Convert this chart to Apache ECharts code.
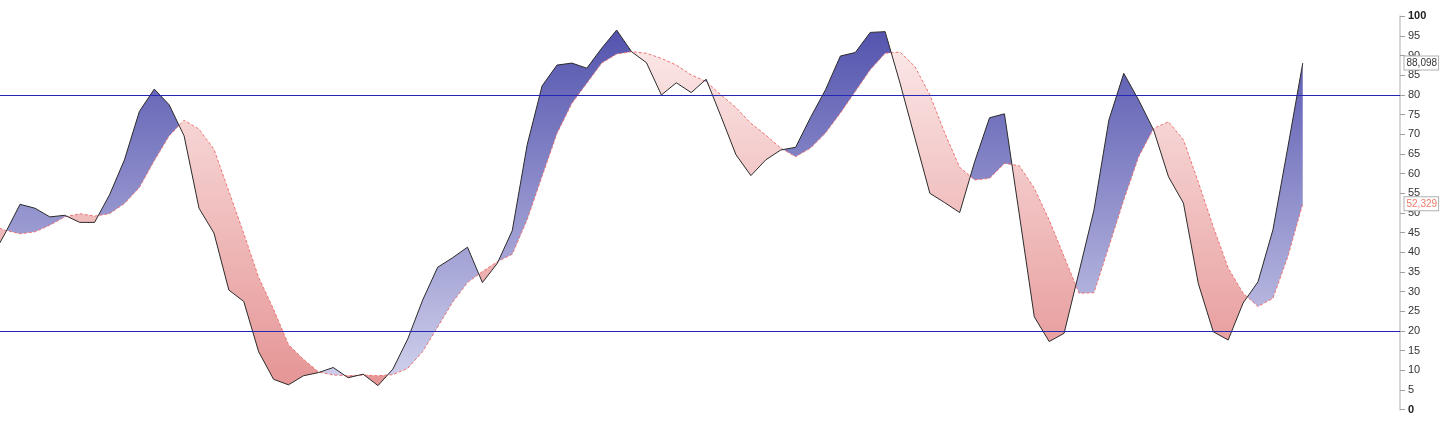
<!DOCTYPE html>
<html>
<head>
<meta charset="utf-8">
<script src="https://cdn.jsdelivr.net/npm/echarts@6/dist/echarts.min.js"></script>
<style>
html,body{margin:0;padding:0;background:#fff;}
#chart{width:1440px;height:428px;}
</style>
</head>
<body>
<div id="chart"></div>
<script>
// %K (solid black) values, one per bar
const kValues = [38, 44.8, 52.2, 51.2, 49.0, 49.4, 47.6, 47.6, 54.6, 63.5,
  75.8, 81.5, 77.5, 69.6, 51.2, 44.9, 30.4, 27.5, 14.7, 7.7,
  6.3, 8.6, 9.4, 10.7, 8.1, 9.0, 6.1, 10.3, 18.0, 27.9,
  36.2, 38.6, 41.3, 32.3, 37.2, 45.5, 67.3, 82.3, 87.6, 88.1,
  86.8, 91.9, 96.5, 91.0, 88.2, 80.0, 83.1, 80.6, 84.0, 74.5,
  64.8, 59.5, 63.5, 66.0, 66.7, 74.3, 81.3, 89.9, 90.8, 95.9,
  96.1, 83.0, 69.0, 55.0, 52.6, 50.1, 63.0, 74.2, 75.2, 49.5,
  23.6, 17.3, 19.4, 35.0, 50.7, 73.6, 85.5, 78.7, 71.1, 59.2,
  52.5, 32.0, 19.8, 17.7, 27.1, 32.5, 45.7, 66.7, 88.098];
// %D (dashed red) values
const dValues = [47, 45.6, 44.7, 45.2, 46.9, 49.0, 49.8, 49.2, 49.8, 52.4,
  56.5, 63.3, 69.6, 73.6, 71.3, 66.2, 55.5, 44.8, 33.6, 25.5,
  16.5, 12.8, 9.6, 8.8, 8.6, 8.8, 8.6, 8.9, 10.5, 14.8,
  21.0, 27.3, 32.3, 35.1, 37.6, 39.5, 48.3, 59.3, 70.2, 77.9,
  83.0, 88.1, 90.4, 91.0, 90.6, 89.3, 87.6, 85.1, 83.4, 80.0,
  76.8, 72.8, 69.8, 66.5, 64.3, 66.5, 70.3, 75.4, 80.9, 86.4,
  90.6, 90.9, 87.2, 80.0, 70.3, 61.6, 58.4, 58.8, 62.6, 62.0,
  56.3, 48.2, 38.9, 29.6, 29.7, 41.4, 53.3, 64.3, 71.5, 73.2,
  68.6, 57.8, 46.5, 36.0, 29.6, 26.2, 28.3, 38.9, 52.329];
// Overbought / oversold levels
const levels = [80, 20];

const kData = kValues.map((v, i) => [i, v]);
const dData = dValues.map((v, i) => [i, v]);
const lastIdx = kValues.length - 1;
const X_MIN = 0.657, X_MAX = 94.52;

function fmt(v) { return v.toFixed(3).replace('.', ','); }

const chart = echarts.init(document.getElementById('chart'), null, {renderer: 'canvas'});

function renderFill(params, api) {
  const top = api.coord([X_MIN, 100])[1];
  const bot = api.coord([X_MIN, 0])[1];
  const blue = new echarts.graphic.LinearGradient(0, top, 0, bot,
    [{offset: 0, color: '#4f4fac'}, {offset: 1, color: '#dadaf1'}], true);
  const red = new echarts.graphic.LinearGradient(0, top, 0, bot,
    [{offset: 0, color: '#fdeeee'}, {offset: 1, color: '#e48f8f'}], true);
  const regions = [];
  let cur = null;
  let prevSign = 0;
  for (let i = 0; i < kValues.length; i++) {
    const diff = kValues[i] - dValues[i];
    let s = diff > 0 ? 1 : (diff < 0 ? -1 : prevSign || 1);
    const p = api.coord([i, kValues[i]]);
    const q = api.coord([i, dValues[i]]);
    if (cur && s !== cur.sign) {
      const d0 = kValues[i - 1] - dValues[i - 1];
      const t = d0 / (d0 - diff);
      const cx = i - 1 + t;
      const cy = kValues[i - 1] + t * (kValues[i] - kValues[i - 1]);
      const c = api.coord([cx, cy]);
      cur.k.push(c); cur.d.push(c);
      regions.push(cur);
      cur = {sign: s, k: [c], d: [c]};
    }
    if (!cur) cur = {sign: s, k: [], d: []};
    cur.k.push(p); cur.d.push(q);
    prevSign = s;
  }
  if (cur) regions.push(cur);
  const children = regions.map(r => ({
    type: 'polygon',
    shape: {points: r.k.concat(r.d.slice().reverse())},
    style: {fill: r.sign > 0 ? blue : red, stroke: null}
  }));
  return {type: 'group', children: children};
}

const option = {
  animation: false,
  backgroundColor: '#fff',
  grid: {left: 0, right: 40, top: 16.3, bottom: 18.4, containLabel: false},
  xAxis: {
    type: 'value', min: X_MIN, max: X_MAX, show: false,
    splitLine: {show: false}
  },
  yAxis: {
    type: 'value', position: 'right', min: 0, max: 100, interval: 5,
    axisLine: {show: true, lineStyle: {color: '#d6d6d6', width: 2}},
    axisTick: {show: true, length: 5, lineStyle: {color: '#a0a0a0', width: 1}},
    splitLine: {show: false},
    axisLabel: {
      margin: 8, fontSize: 11, color: '#333', fontFamily: 'Liberation Sans, Arial, sans-serif',
      formatter: function (v) { return (v === 100 || v === 0) ? '{b|' + v + '}' : String(v); },
      rich: {b: {fontWeight: 'bold', fontSize: 11, color: '#222', fontFamily: 'Liberation Sans, Arial, sans-serif'}}
    }
  },
  series: [
    {
      type: 'custom', z: 1, clip: true, silent: true,
      data: [[0, 0]],
      renderItem: renderFill
    },
    {
      name: '%D', type: 'line', data: dData, z: 2, symbol: 'none', silent: true,
      lineStyle: {color: '#ee7373', width: 1, type: [3, 2]},
      markPoint: {
        symbol: 'rect', symbolSize: 1, silent: true,
        itemStyle: {color: 'rgba(0,0,0,0)'},
        data: [{coord: [X_MAX, dValues[lastIdx]], value: dValues[lastIdx]}],
        label: {
          show: true, position: 'right', distance: 4,
          formatter: p => fmt(p.value),
          color: '#ef7a68', fontSize: 10, fontFamily: 'Liberation Sans, Arial, sans-serif',
          backgroundColor: '#fff', borderColor: '#b0b0b0', borderWidth: 1, padding: [2, 1, 1, 2]
        }
      }
    },
    {
      name: '%K', type: 'line', data: kData, z: 3, symbol: 'none', silent: true,
      lineStyle: {color: '#2b2b2b', width: 1},
      markLine: {
        silent: true, symbol: ['none', 'none'], label: {show: false},
        lineStyle: {color: '#2626b4', width: 1, type: 'solid'},
        data: levels.map(v => ({yAxis: v}))
      },
      markPoint: {
        symbol: 'rect', symbolSize: 1, silent: true,
        itemStyle: {color: 'rgba(0,0,0,0)'},
        data: [{coord: [X_MAX, kValues[lastIdx]], value: kValues[lastIdx]}],
        label: {
          show: true, position: 'right', distance: 4,
          formatter: p => fmt(p.value),
          color: '#333', fontSize: 10, fontFamily: 'Liberation Sans, Arial, sans-serif',
          backgroundColor: '#fff', borderColor: '#b0b0b0', borderWidth: 1, padding: [2, 1, 1, 2]
        }
      }
    }
  ]
};
chart.setOption(option);
</script>
</body>
</html>
